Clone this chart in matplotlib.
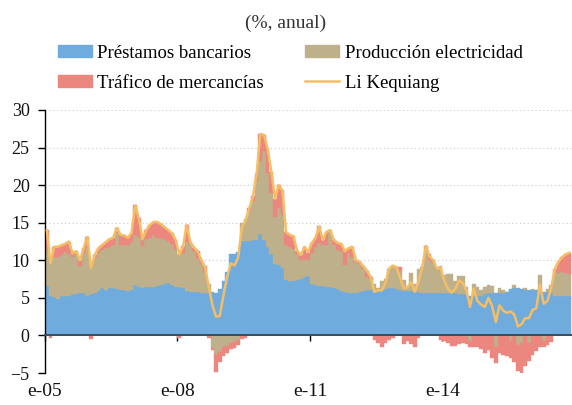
import numpy as np
import matplotlib
matplotlib.use('Agg')
import matplotlib.pyplot as plt
from matplotlib.patches import Patch
from matplotlib.lines import Line2D

plt.rcParams['font.family'] = ['Liberation Serif', 'DejaVu Serif']

# monthly contributions, e-05 .. n-16 (%, anual)
prestamos = [
    6.6, 5.2, 5.1, 4.9, 5.3, 5.2, 5.3, 5.5, 5.5, 5.6, 5.6, 5.2,
    5.5, 5.6, 5.9, 6.3, 6.1, 6.3, 6.3, 6.2, 6.1, 6.0, 5.9, 6.1,
    6.7, 6.5, 6.3, 6.4, 6.5, 6.5, 6.6, 6.7, 6.8, 7.0, 6.7, 6.4,
    6.5, 6.3, 5.9, 5.8, 5.8, 5.8, 5.6, 5.7, 5.7, 5.8, 5.6, 6.2,
    7.3, 8.5, 10.9, 10.9, 11.1, 12.6, 12.6, 12.6, 12.7, 12.7, 13.5, 12.7,
    11.8, 10.9, 9.5, 9.4, 9.0, 7.4, 7.3, 7.3, 7.4, 7.5, 7.8, 7.9,
    6.8, 6.7, 6.6, 6.6, 6.5, 6.4, 6.3, 6.2, 5.9, 5.8, 5.7, 5.6,
    5.6, 5.8, 5.9, 6.0, 6.1, 6.0, 6.0, 6.0, 6.2, 6.3, 6.3, 6.2,
    6.0, 5.9, 5.9, 5.9, 5.8, 5.8, 5.7, 5.7, 5.7, 5.7, 5.7, 5.6,
    5.6, 5.6, 5.6, 5.6, 5.5, 5.5, 5.5, 5.3, 5.2, 5.2, 5.2, 5.5,
    5.6, 5.7, 5.7, 5.7, 5.7, 5.8, 6.2, 6.3, 6.3, 6.2, 6.1, 6.0,
    6.0, 6.0, 5.9, 5.8, 5.8, 5.7, 5.2, 5.2, 5.2, 5.2, 5.2,
]
electricidad = [
    4.8, 4.5, 5.4, 5.6, 5.4, 5.9, 5.6, 4.9, 5.2, 3.7, 5.4, 6.4,
    4.0, 4.9, 5.1, 5.1, 5.5, 5.5, 5.7, 7.4, 5.9, 6.1, 6.1, 6.3,
    6.7, 6.6, 5.6, 6.4, 6.4, 6.9, 6.3, 6.2, 6.0, 5.6, 5.5, 5.1,
    4.4, 4.7, 6.6, 6.2, 5.5, 4.5, 3.9, 2.8, 1.2, -1.7, -2.6, -2.2,
    -1.6, -1.4, -1.0, -0.9, -0.6, 2.3, 2.9, 4.0, 5.2, 7.8, 9.7, 11.8,
    9.8, 8.1, 6.3, 7.6, 7.0, 4.6, 4.5, 4.2, 3.5, 2.5, 2.4, 2.1,
    4.2, 5.1, 5.7, 5.4, 5.5, 7.3, 5.8, 5.2, 5.3, 3.6, 5.3, 4.9,
    4.2, 3.7, 2.9, 1.8, 1.4, 0.8, 0.3, 1.2, 1.3, 2.6, 2.9, 2.9,
    2.6, 1.5, 0.6, 2.4, 1.1, 3.1, 3.4, 6.1, 4.3, 3.9, 3.2, 3.6,
    2.4, 2.6, 2.6, 1.6, 2.4, 2.4, 1.0, -0.8, 1.7, 1.3, 0.8, 1.0,
    1.1, 0.9, -1.5, 0.6, 0.3, 0.0, -0.8, 0.4, -1.3, -1.0, 0.2, -1.0,
    0.2, 0.0, 2.1, -0.7, 0.4, 1.0, 3.2, 3.1, 3.3, 3.1, 3.0,
]
trafico = [
    2.6, -0.3, 1.3, 1.3, 1.3, 1.1, 1.6, 0.5, 0.5, 0.7, 0.6, 1.5,
    -0.5, 0.2, 0.6, 0.6, 0.8, 1.0, 1.0, 0.7, 1.4, 1.2, 1.0, 1.2,
    3.9, 2.5, 0.9, 1.2, 1.8, 1.7, 2.2, 1.9, 1.6, 1.4, 1.4, 1.2,
    -0.3, 0.9, 2.2, 0.4, 0.4, 1.0, 0.6, 0.7, -0.4, -0.2, -2.3, -1.4,
    -1.2, -1.0, -0.8, -0.8, -0.7, -0.5, -0.4, 0.4, 0.6, 1.0, 3.6, 2.2,
    3.2, 2.8, 2.4, 3.0, 3.3, 1.7, 1.6, 1.7, 0.4, 0.7, 1.6, 1.0,
    1.3, 1.2, 2.2, 0.7, 1.8, 0.3, 0.6, 0.9, 1.0, 1.8, 0.6, 1.3,
    0.2, 0.3, 0.5, 0.8, 0.3, -0.6, -1.0, -1.5, -1.0, -0.6, -0.4, 0.0,
    0.5, -1.1, -0.8, -1.2, -1.6, -0.4, 0.0, 0.1, 0.9, 0.4, 0.1, -0.6,
    -0.7, -1.0, -1.4, -1.4, -1.1, -1.0, -1.2, -0.7, -1.6, -1.5, -1.8, -2.4,
    -2.0, -3.0, -2.2, -2.4, -2.6, -2.8, -2.2, -3.5, -3.5, -4.0, -4.1, -2.4,
    -2.6, -2.1, -1.6, -0.8, -1.3, -0.9, 0.4, 1.5, 1.9, 2.5, 2.8,
]
li_keqiang = [
    14.0, 9.6, 11.8, 11.8, 12.0, 12.2, 12.5, 10.9, 11.2, 10.0, 11.6, 13.1,
    9.0, 10.7, 11.6, 12.0, 12.4, 12.8, 13.0, 14.3, 13.4, 13.3, 13.0, 13.6,
    17.3, 15.6, 12.8, 14.0, 14.7, 15.1, 15.1, 14.8, 14.4, 14.0, 13.6, 12.7,
    10.8, 11.8, 14.7, 12.4, 11.7, 11.2, 10.0, 9.1, 6.5, 4.0, 2.5, 2.6,
    5.4, 7.8, 9.6, 9.3, 10.4, 14.4, 15.3, 16.9, 18.5, 21.5, 26.8, 26.7,
    24.8, 21.8, 18.2, 20.0, 19.3, 13.7, 13.4, 13.2, 11.3, 10.7, 11.8, 11.1,
    12.3, 13.0, 14.5, 12.7, 13.8, 14.0, 12.7, 12.3, 12.2, 11.2, 11.6, 11.8,
    10.0, 9.8, 9.2, 8.6, 7.8, 5.8, 6.0, 6.0, 7.0, 8.9, 9.3, 9.1,
    7.6, 6.3, 6.4, 7.1, 5.8, 7.2, 9.1, 11.9, 10.5, 10.0, 8.9, 9.0,
    7.3, 6.2, 5.7, 6.2, 7.3, 7.0, 6.0, 3.8, 6.2, 4.6, 4.1, 3.8,
    5.0, 3.9, 1.8, 4.0, 3.3, 3.0, 3.2, 2.8, 1.2, 1.5, 2.3, 2.3,
    3.4, 3.6, 6.8, 4.2, 4.6, 6.2, 8.8, 9.8, 10.4, 10.8, 11.0,
]

tick_months = [0, 36, 72, 108]
tick_labels = ['e-05', 'e-08', 'e-11', 'e-14']

names = ['Préstamos bancarios', 'Producción electricidad', 'Tráfico de mercancías']
colors = ['#6fabdc', '#bfb08c', '#ec877f']
line_color = '#f5be64'

fig = plt.figure(figsize=(5.72, 4.05), dpi=100)
ax = fig.add_axes([45 / 572, 32 / 405, 527 / 572, 263 / 405])

x = np.arange(len(prestamos))
pos_base = np.zeros(len(x))
neg_base = np.zeros(len(x))
for vals, color in zip([prestamos, electricidad, trafico], colors):
    vals = np.array(vals)
    base = np.where(vals >= 0, pos_base, neg_base)
    ax.bar(x, vals, width=1.0, bottom=base, align='edge', color=color,
           edgecolor=color, linewidth=0.3, zorder=2)
    pos_base += np.clip(vals, 0, None)
    neg_base += np.clip(vals, None, 0)

ax.plot(x + 0.5, li_keqiang, color=line_color, lw=1.8, zorder=3)

ax.set_xlim(0, 143.2)
ax.set_ylim(-5, 30)
ax.set_yticks(range(-5, 31, 5))
ax.yaxis.grid(True, linestyle=(0, (1, 2.5)), color='#c8c8c8', lw=0.8, zorder=0)
ax.set_axisbelow(True)

for s in ['top', 'right']:
    ax.spines[s].set_visible(False)
ax.spines['left'].set_color('black')
ax.spines['left'].set_linewidth(1.0)
ax.spines['bottom'].set_position(('data', 0))
ax.spines['bottom'].set_color('#3d4b58')
ax.spines['bottom'].set_linewidth(1.4)
ax.spines['bottom'].set_zorder(4)

ax.set_xticks(tick_months)
ax.set_xticklabels(tick_labels)
ax.tick_params(axis='x', direction='out', length=4, width=1, color='black',
               pad=30, labelsize=14, labelcolor='#111111')
ax.tick_params(axis='y', direction='out', length=5, width=1, color='black',
               pad=6, labelsize=13, labelcolor='#111111')

fig.text(0.5, 1 - 23 / 405, '(%, anual)', ha='center', va='center',
         fontsize=14, color='#333333')

handles = [Patch(color=colors[0]), Patch(color=colors[2]),
           Patch(color=colors[1]), Line2D([], [], color=line_color, lw=1.8)]
labels = [names[0], names[2], names[1], 'Li Kequiang']
fig.legend(handles, labels, ncol=2, loc='upper left',
           bbox_to_anchor=(58 / 572, 1 - 45 / 405), frameon=False,
           fontsize=13.5, handlelength=1.8, handleheight=0.6,
           handletextpad=0.3, columnspacing=2.2, labelspacing=0.68,
           borderpad=0, borderaxespad=0)

fig.savefig('out.png', dpi=100)
